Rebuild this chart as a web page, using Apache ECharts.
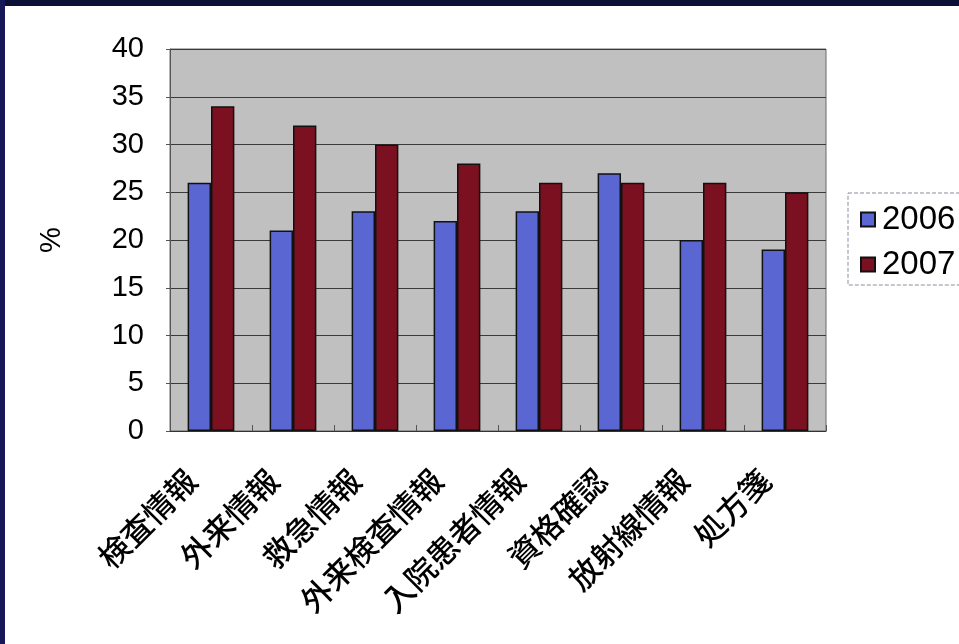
<!DOCTYPE html>
<html>
<head>
<meta charset="utf-8">
<script src="https://cdn.jsdelivr.net/npm/echarts@6/dist/echarts.min.js"></script>
<style>
  html, body { margin: 0; padding: 0; background: #ffffff; }
  #chart { width: 959px; height: 644px; }
</style>
</head>
<body>
<div id="chart"></div>
<script>
// Categories (x axis) and yearly percentages
const categories = ['検査情報', '外来情報', '救急情報', '外来検査情報', '入院患者情報', '資格確認', '放射線情報', '処方箋'];
const values2006 = [26, 21, 23, 22, 23, 27, 20, 19];
const values2007 = [34, 32, 30, 28, 26, 26, 26, 25];
const yTicks = { min: 0, max: 40, interval: 5 };

const chart = echarts.init(document.getElementById('chart'), null, { renderer: 'canvas' });

const barBorder = { borderColor: '#111111', borderWidth: 1.5 };

chart.setOption({
  backgroundColor: '#ffffff',
  animation: false,
  graphic: [
    // frame bands along the top and left edges
    { type: 'rect', left: 0, top: 0, shape: { width: 959, height: 6 }, style: { fill: '#0b1035' }, z: 100 },
    { type: 'rect', left: 0, top: 0, shape: { width: 5, height: 644 }, style: { fill: '#16185a' }, z: 100 }
  ],
  grid: {
    left: 170, right: 133, top: 49, bottom: 213,
    show: true,
    backgroundColor: '#c0c0c0',
    borderColor: '#6a6a6a',
    borderWidth: 1
  },
  legend: {
    left: 848,
    top: 193,
    orient: 'vertical',
    icon: 'rect',
    itemWidth: 14,
    itemHeight: 14,
    itemGap: 12,
    padding: [10, 14, 4, 12],
    borderColor: '#8c8c9c',
    borderWidth: 1,
    borderType: 'dashed',
    textStyle: { fontFamily: 'Liberation Sans, Arial, sans-serif', fontSize: 33, color: '#000000', padding: [0, 0, 0, 2] },
    data: ['2006', '2007']
  },
  xAxis: {
    type: 'category',
    data: categories,
    boundaryGap: true,
    axisLine: { show: true, lineStyle: { color: '#333333', width: 1 } },
    axisTick: { show: true, inside: true, length: 6, lineStyle: { color: '#555555' } },
    axisLabel: {
      rotate: 45,
      interval: 0,
      margin: 24,
      padding: [0, 28, 0, 0],
      fontFamily: 'Noto Sans CJK JP, sans-serif',
      fontWeight: 500,
      fontSize: 31,
      color: '#000000'
    },
    splitLine: { show: false }
  },
  yAxis: {
    type: 'value',
    min: yTicks.min,
    max: yTicks.max,
    interval: yTicks.interval,
    name: '%',
    nameLocation: 'middle',
    nameGap: 104,
    nameRotate: 90,
    nameTextStyle: { fontFamily: 'Liberation Sans, Arial, sans-serif', fontSize: 29, color: '#000000' },
    axisLine: { show: true, lineStyle: { color: '#555555', width: 1 } },
    axisTick: { show: true, length: 4, lineStyle: { color: '#555555' } },
    axisLabel: {
      margin: 26,
      fontFamily: 'Liberation Sans, Arial, sans-serif',
      fontSize: 29,
      color: '#000000'
    },
    splitLine: { show: true, lineStyle: { color: '#3a3a3a', width: 1 } }
  },
  series: [
    {
      name: '2006',
      type: 'bar',
      data: values2006,
      barGap: '0%',
      barCategoryGap: '43%',
      itemStyle: Object.assign({ color: '#5a66d2' }, barBorder)
    },
    {
      name: '2007',
      type: 'bar',
      data: values2007,
      barGap: '0%',
      barCategoryGap: '43%',
      itemStyle: Object.assign({ color: '#7a1020' }, barBorder)
    }
  ]
});
</script>
</body>
</html>
